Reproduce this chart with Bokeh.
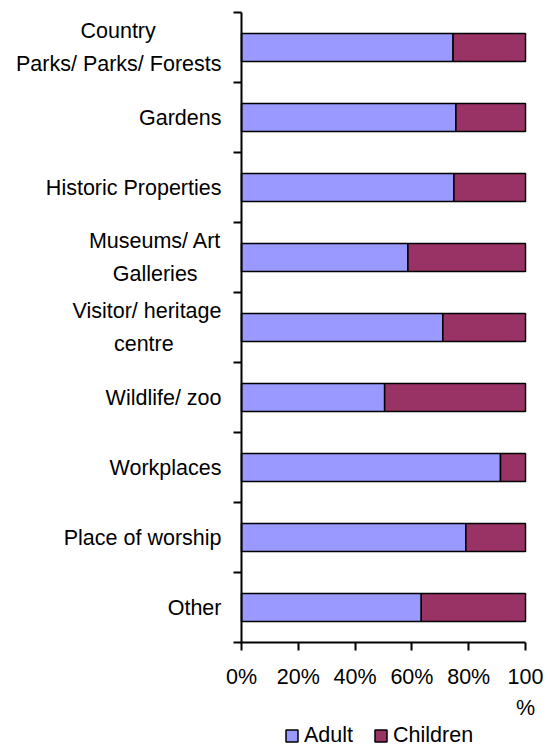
from bokeh.plotting import figure
from bokeh.models import FixedTicker, Legend, LegendItem, ColumnDataSource, Range1d
from bokeh.embed import file_html
from bokeh.resources import INLINE

NB = "\u00a0"
categories = ["Country" + NB * 11 + "\nParks/ Parks/ Forests", "Gardens", "Historic Properties",
              "Museums/ Art\nGalleries" + NB * 4, "Visitor/ heritage\ncentre" + NB * 8, "Wildlife/ zoo",
              "Workplaces", "Place of worship", "Other"]
adult = [74.5, 75.5, 74.8, 58.6, 70.9, 50.4, 91.2, 79.0, 63.3]
children = [25.5, 24.5, 25.2, 41.4, 29.1, 49.6, 8.8, 21.0, 36.7]
series_names = ["Adult", "Children"]
series_colors = ["#9999FF", "#993366"]
x_ticks = [0, 20, 40, 60, 80, 100]
x_tick_labels = ["0%", "20%", "40%", "60%", "80%", "100\n%"]

n = len(categories)
ypos = [n - i - 0.5 for i in range(n)]
source = ColumnDataSource(dict(y=ypos, adult=adult, children=children))

FONT = "Liberation Sans"
FS = "21.5px"

# layout: the frame covers the whole canvas; axes are pinned at x = 0 and y = 0
PX_X, PX_Y = 2.84, 70.0          # pixels per percent / per category
ORIGIN_X, TOP_Y = 241, 12        # pixel position of x = 0 and of the top of the axis
W, H = 545, 748
p = figure(output_backend="svg", toolbar_location=None,
           frame_width=W, frame_height=H,
           min_border_left=0, min_border_right=0, min_border_top=0, min_border_bottom=0,
           x_range=Range1d(-ORIGIN_X / PX_X, (W - ORIGIN_X) / PX_X),
           y_range=Range1d(n + TOP_Y / PX_Y - H / PX_Y, n + TOP_Y / PX_Y))

renderers = p.hbar_stack(["adult", "children"], y="y", height=0.4, source=source,
                         color=series_colors, line_color="black", line_width=1.5)

p.grid.visible = False
p.outline_line_color = None
p.background_fill_color = "white"
p.border_fill_color = "white"

# x axis, drawn at y = 0
xa = p.xaxis[0]
xa.fixed_location = 0
xa.bounds = (0, 100)
xa.ticker = FixedTicker(ticks=x_ticks, minor_ticks=[])
xa.major_label_overrides = {t: l for t, l in zip(x_ticks, x_tick_labels)}
xa.axis_line_width = 2
xa.major_tick_line_width = 2
xa.major_tick_out = 8
xa.major_tick_in = 0
xa.minor_tick_line_color = None
xa.major_label_text_font = FONT
xa.major_label_text_font_size = FS
xa.major_label_text_color = "black"
xa.major_label_text_line_height = 1.3
xa.major_label_standoff = 14

# y axis, drawn at x = 0: labels at category centres, tick marks at category boundaries
ya = p.yaxis[0]
ya.fixed_location = 0
ya.bounds = (0, n)
ya.ticker = FixedTicker(ticks=ypos, minor_ticks=list(range(n + 1)))
ya.major_label_overrides = {y: c for y, c in zip(ypos, categories)}
ya.axis_line_width = 2
ya.major_tick_line_color = None
ya.major_tick_out = 0
ya.major_tick_in = 0
ya.minor_tick_line_width = 2
ya.minor_tick_out = 8
ya.minor_tick_in = 0
ya.major_label_text_font = FONT
ya.major_label_text_font_size = FS
ya.major_label_text_color = "black"
ya.major_label_text_line_height = 1.4
ya.major_label_standoff = 12

legend = Legend(items=[LegendItem(label=series_names[i], renderers=[renderers[i]]) for i in range(2)],
                orientation="horizontal", location=(284, 0),
                label_text_font=FONT, label_text_font_size=FS, label_text_color="black",
                glyph_width=15, glyph_height=15, label_standoff=5, spacing=20,
                border_line_color=None, background_fill_alpha=0,
                margin=0, padding=0)
p.add_layout(legend, "center")

open("out.html", "w").write(file_html(p, INLINE))
